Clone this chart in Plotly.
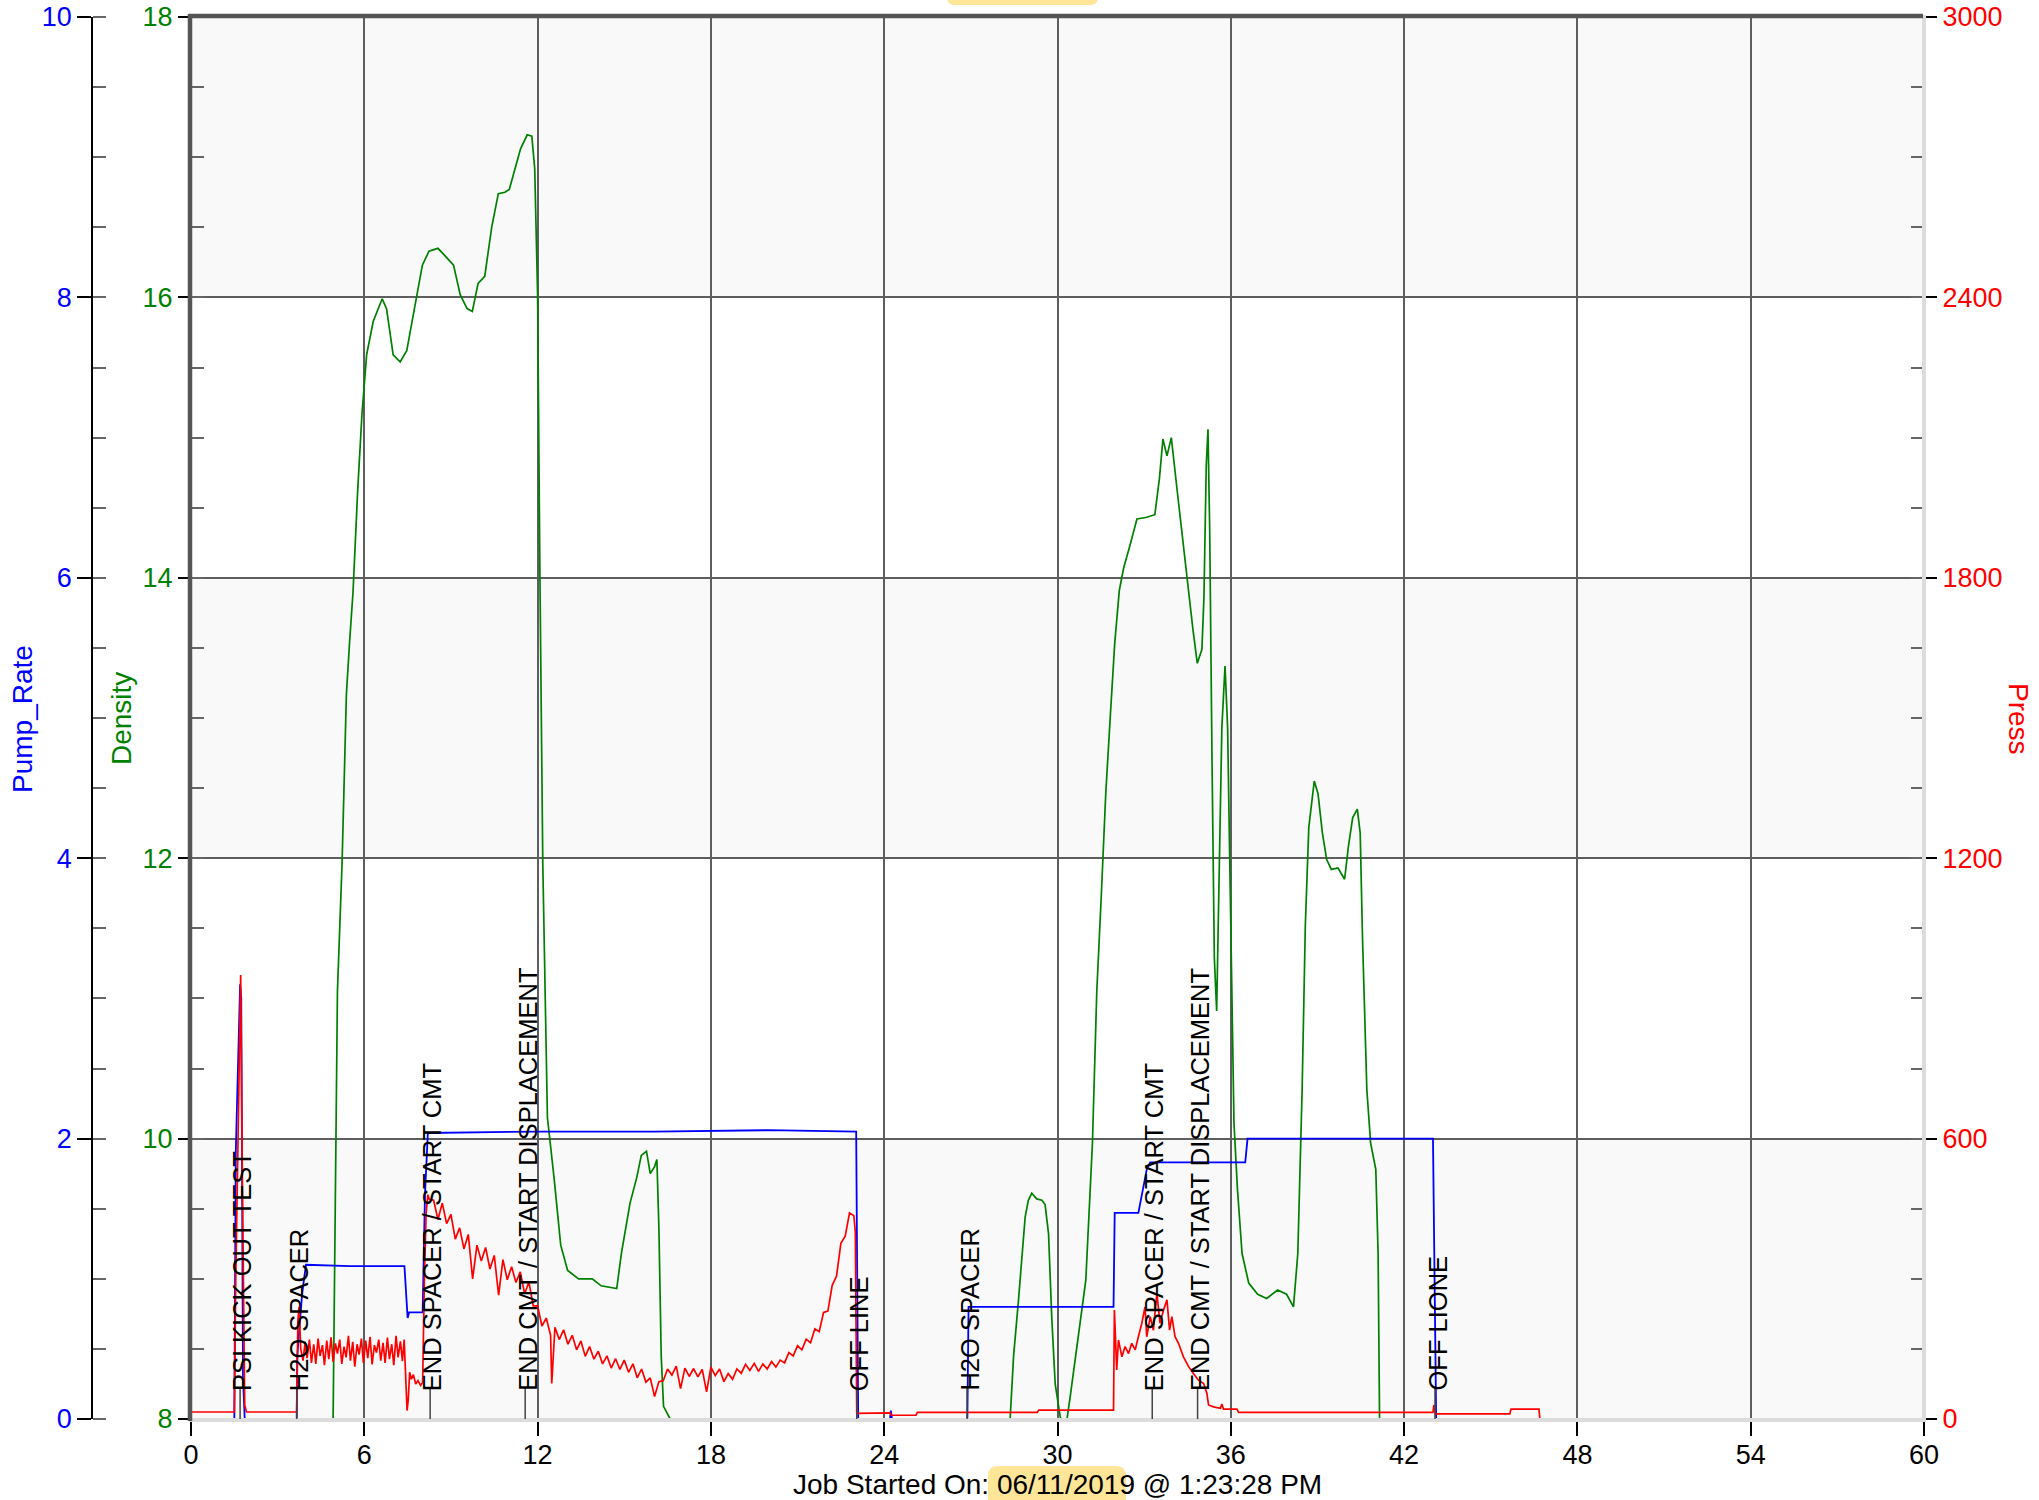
import plotly.graph_objects as go

# ---------------- data ----------------
press_x = [0, 1.50, 1.55, 1.65, 1.72, 1.78, 1.86, 1.92, 3.66, 3.70, 3.74,
           3.80, 3.88, 3.95, 4.02, 4.10, 4.17, 4.25, 4.32, 4.40, 4.47,
           4.55, 4.62, 4.70, 4.77, 4.85, 4.92, 5.00, 5.07, 5.15, 5.22,
           5.30, 5.37, 5.45, 5.52, 5.60, 5.67, 5.75, 5.82, 5.90, 5.97,
           6.05, 6.12, 6.20, 6.27, 6.35, 6.42, 6.50, 6.57, 6.65, 6.72,
           6.80, 6.87, 6.95, 7.02, 7.10, 7.17, 7.25, 7.32, 7.38,
           7.42, 7.48, 7.52, 7.57, 7.63, 7.70, 7.78, 7.86, 7.95, 8.02, 8.08, 8.14, 8.20,
           8.25, 8.40, 8.55, 8.70, 8.85, 9.00, 9.15, 9.30, 9.45, 9.60,
           9.75, 9.90, 10.05, 10.20, 10.35, 10.50, 10.65, 10.80, 10.95, 11.10,
           11.25, 11.40, 11.55, 11.70, 11.85, 12.00, 12.15, 12.30, 12.45, 12.49,
           12.60, 12.75, 12.90, 13.05, 13.20, 13.35, 13.50, 13.65, 13.80, 13.95,
           14.10, 14.25, 14.40, 14.55, 14.70, 14.85, 15.00, 15.15, 15.30, 15.45,
           15.60, 15.75, 15.90, 16.05, 16.20, 16.35, 16.50, 16.65, 16.80, 16.95,
           17.10, 17.25, 17.40, 17.55, 17.70, 17.85, 18.00, 18.15, 18.30, 18.45,
           18.60, 18.75, 18.90, 19.05, 19.20, 19.35, 19.50, 19.65, 19.80, 19.95,
           20.10, 20.25, 20.40, 20.55, 20.70, 20.85, 21.00, 21.15, 21.30, 21.45,
           21.60, 21.75, 21.90, 22.05, 22.20, 22.35, 22.50, 22.65, 22.80, 22.95,
           23.00, 23.05,
           24.20, 24.25, 25.10, 25.15, 29.30, 29.35, 31.94, 31.97, 32.05, 32.11,
           32.23, 32.34, 32.46, 32.57, 32.69, 32.80, 32.92, 33.03, 33.09, 33.21,
           33.32, 33.44, 33.55, 33.67, 33.79, 33.88, 33.96, 34.07, 34.19, 34.36,
           34.54, 34.71, 34.88, 35.06, 35.17, 35.23, 35.40, 35.64, 35.69, 35.75,
           36.21, 36.27, 43.00, 43.03, 43.08, 45.66, 45.70, 46.67, 46.70]
press_y = [15, 15, 300, 700, 950, 500, 30, 15, 15, 210, 240,
           150, 125, 165, 130, 170, 120, 160, 118, 172, 135,
           158, 115, 168, 128, 175, 122, 162, 140, 170, 118,
           155, 132, 178, 125, 165, 112, 160, 138, 172, 120,
           168, 130, 176, 117, 158, 142, 170, 125, 163, 120,
           174, 128, 160, 115, 178, 132, 166, 124, 170,
           120, 18, 40, 100, 85, 95, 75, 82, 72, 78, 300, 440, 480,
           470, 468, 427, 462, 418, 438, 385, 409, 364, 395,
           300, 372, 338, 367, 321, 350, 265, 341, 298, 326,
           292, 315, 268, 293, 242, 242, 199, 216, 179, 76,
           196, 170, 191, 160, 179, 148, 167, 134, 155, 128,
           145, 118, 135, 109, 129, 106, 126, 100, 118, 88,
           107, 79, 88, 48, 80, 82, 107, 94, 113, 65,
           109, 91, 108, 90, 106, 58, 111, 93, 107, 80,
           97, 85, 107, 98, 117, 104, 119, 102, 118, 107,
           123, 111, 126, 120, 142, 135, 157, 148, 171, 163,
           193, 187, 228, 231, 286, 306, 376, 391, 441, 435,
           400, 12,
           13, 8, 8, 14, 14, 19, 19, 233, 105, 169,
           133, 155, 140, 162, 148, 176, 205, 240, 176, 219,
           190, 269, 205, 233, 255, 190, 219, 176, 162, 133,
           112, 97, 83, 76, 55, 30, 26, 23, 32, 21,
           21, 14, 14, 30, 11, 11, 21, 21, 0]

pump_x = [0, 1.50, 1.55, 1.62, 1.70, 1.74, 1.80, 1.86,
          3.66, 3.68, 3.85, 3.98, 5.50, 7.39,
          7.45, 7.50, 7.55, 8.02, 8.10, 8.20,
          12.00, 16.00, 20.00, 23.03, 23.10,
          24.20, 24.23, 24.27, 26.88, 26.92, 31.94, 31.98,
          32.80, 32.95, 33.09, 33.21, 36.50, 36.58, 43.00, 43.11, 46.70]
pump_y = [0, 0, 1.9, 2.4, 3.1, 3.0, 0.3, 0,
          0, 0.45, 0.9, 1.1, 1.09, 1.09,
          0.85, 0.72, 0.76, 0.76, 1.6, 2.04,
          2.05, 2.05, 2.06, 2.05, 0,
          0, 0.06, 0, 0, 0.8, 0.8, 1.47,
          1.47, 1.62, 1.78, 1.83, 1.83, 2.0, 2.0, 0, 0]

dens_x = [0, 4.85, 4.92, 5.07, 5.23, 5.38, 5.49, 5.61, 5.77, 5.92,
          6.08, 6.31, 6.62, 6.77, 7.00, 7.24, 7.47, 7.70, 8.01, 8.24,
          8.55, 8.78, 9.09, 9.32, 9.56, 9.74, 9.94, 10.17, 10.41, 10.64,
          10.87, 11.02, 11.18, 11.41, 11.64, 11.80, 11.90, 12.00, 12.08, 12.18,
          12.34, 12.57, 12.80, 13.04, 13.42, 13.89, 14.20, 14.74, 14.90, 15.20,
          15.43, 15.59, 15.77, 15.90, 16.05, 16.13, 16.20, 16.28, 16.36, 16.59,
          16.70, 28.20, 28.36, 28.48, 28.65, 28.77, 28.88, 28.99, 29.11, 29.28,
          29.46, 29.57, 29.69, 29.80, 29.92, 30.09, 30.26, 30.44, 30.61, 30.80,
          30.98, 31.21, 31.36, 31.52, 31.67, 31.83, 31.98, 32.14, 32.29, 32.52,
          32.75, 33.06, 33.37, 33.53, 33.65, 33.79, 33.94, 34.15, 34.30, 34.45,
          34.69, 34.84, 35.00, 35.07, 35.15, 35.21, 35.27, 35.35, 35.43, 35.51,
          35.58, 35.69, 35.80, 35.89, 36.00, 36.11, 36.23, 36.39, 36.62, 36.93,
          37.24, 37.62, 37.93, 38.17, 38.32, 38.47, 38.58, 38.70, 38.89, 39.02,
          39.17, 39.32, 39.48, 39.71, 39.94, 40.07, 40.22, 40.38, 40.48, 40.56,
          40.71, 40.84, 41.02, 41.10, 41.15, 41.30, 46.70]
dens_y = [7.0, 7.0, 8.0, 11.05, 11.96, 13.17, 13.54, 13.9, 14.62, 15.17,
          15.59, 15.83, 15.99, 15.92, 15.59, 15.54, 15.62, 15.89, 16.23, 16.33,
          16.35, 16.3, 16.23, 16.02, 15.92, 15.9, 16.1, 16.15, 16.5, 16.74,
          16.75, 16.77, 16.89, 17.06, 17.16, 17.15, 16.92, 16.02, 14.02, 11.96,
          10.15, 9.72, 9.24, 9.06, 9.0, 9.0, 8.95, 8.93, 9.18, 9.54,
          9.72, 9.88, 9.91, 9.75, 9.8, 9.85, 9.36, 8.45, 8.09, 8.0,
          7.0, 7.0, 8.0, 8.45, 8.85, 9.13, 9.44, 9.56, 9.61, 9.57,
          9.56, 9.53, 9.32, 8.73, 8.25, 8.02, 7.9, 8.16, 8.42, 8.73,
          8.99, 9.97, 11.05, 11.75, 12.46, 13.02, 13.53, 13.91, 14.07, 14.24,
          14.42, 14.43, 14.45, 14.71, 14.99, 14.87, 15.0, 14.61, 14.33, 14.03,
          13.63, 13.39, 13.49, 13.86, 14.8, 15.06, 14.33, 12.69, 11.29, 10.91,
          11.75, 12.93, 13.37, 12.93, 11.52, 10.11, 9.64, 9.18, 8.97, 8.89,
          8.86, 8.92, 8.89, 8.8, 9.18, 10.35, 11.52, 12.22, 12.55, 12.46,
          12.18, 11.99, 11.92, 11.93, 11.85, 12.08, 12.29, 12.35, 12.18, 11.43,
          10.35, 9.97, 9.78, 9.18, 8.0, 7.0, 7.0]

event_x = [1.70, 3.66, 8.28, 11.57, 23.05, 26.87, 33.28, 34.85, 43.07]
event_labels = ["PSI KICK OUT TEST", "H2O SPACER", "END SPACER / START CMT",
                "END CMT / START DISPLACEMENT", "OFF LINE", "H2O SPACER",
                "END SPACER / START CMT", "END CMT / START DISPLACEMENT", "OFF LIONE"]

x_ticks = [0, 6, 12, 18, 24, 30, 36, 42, 48, 54, 60]
dens_ticks = [8, 10, 12, 14, 16, 18]
pump_ticks = [0, 2, 4, 6, 8, 10]
press_ticks = [0, 600, 1200, 1800, 2400, 3000]
band_ranges = [(8, 10), (12, 14), (16, 18)]

assert len(press_x) == len(press_y)
assert len(pump_x) == len(pump_y)
assert len(dens_x) == len(dens_y)

# ---------------- layout constants ----------------
W, H = 2039, 1500
PL, PR, PT, PB = 191, 1924, 17, 1419          # plot frame in pixels
FONT = "Liberation Sans, Arial, sans-serif"


def fx(p):
    return p / W


def fy(p):
    return 1 - p / H


fig = go.Figure()
fig.add_trace(go.Scatter(x=press_x, y=press_y, yaxis="y3", mode="lines",
                         line=dict(color="#ff0000", width=1.7), hoverinfo="skip"))
fig.add_trace(go.Scatter(x=dens_x, y=dens_y, yaxis="y", mode="lines",
                         line=dict(color="#008000", width=1.7), hoverinfo="skip"))
fig.add_trace(go.Scatter(x=pump_x, y=pump_y, yaxis="y2", mode="lines",
                         line=dict(color="#0000ff", width=1.8), hoverinfo="skip"))

grid = "#5e5e5e"
TF = 27
fig.update_layout(
    width=W, height=H, margin=dict(l=0, r=0, t=0, b=0, autoexpand=False),
    paper_bgcolor="white", plot_bgcolor="white", showlegend=False,
    font=dict(family=FONT, size=TF, color="#000"),
    xaxis=dict(domain=[fx(PL), fx(PR)], range=[0, 60], tickvals=x_ticks,
               ticks="outside", ticklen=16, tickwidth=1.5, tickcolor="#000",
               showgrid=True, gridcolor=grid, gridwidth=1.5, zeroline=False,
               showline=False, ticklabeloverflow="allow", ticklabelstandoff=-4,
               tickfont=dict(color="#000", size=TF)),
    yaxis=dict(domain=[fy(PB), fy(PT)], range=[8, 18], tickvals=dens_ticks,
               ticks="outside", ticklen=12, tickwidth=1.5, tickcolor="#000",
               minor=dict(ticks="inside", dtick=0.5, tick0=8, ticklen=13,
                          tickwidth=1.5, tickcolor="#666", showgrid=False),
               showgrid=True, gridcolor=grid, gridwidth=1.5, zeroline=False,
               showline=False, ticklabeloverflow="allow",
               tickfont=dict(color="#008000", size=TF)),
    yaxis2=dict(overlaying="y", anchor="free", position=fx(92), side="left",
                range=[0, 10], tickvals=pump_ticks, ticks="outside", ticklen=14,
                tickwidth=1.5, tickcolor="#000",
                minor=dict(ticks="inside", dtick=0.5, tick0=0, ticklen=13,
                           tickwidth=1.5, tickcolor="#666", showgrid=False),
                showline=True, linecolor="#000", linewidth=1.5,
                showgrid=False, zeroline=False, ticklabeloverflow="allow",
                tickfont=dict(color="#0000ff", size=TF)),
    yaxis3=dict(overlaying="y", anchor="x", side="right",
                range=[0, 3000], tickvals=press_ticks, ticks="outside", ticklen=12,
                tickwidth=1.5, tickcolor="#000",
                minor=dict(ticks="inside", dtick=150, tick0=0, ticklen=13,
                           tickwidth=1.5, tickcolor="#666", showgrid=False),
                showgrid=False, zeroline=False, ticklabeloverflow="allow",
                tickfont=dict(color="#ff0000", size=TF)),
)

shapes = []
for lo, hi in band_ranges:
    shapes.append(dict(type="rect", xref="x", yref="y", x0=0, x1=60, y0=lo, y1=hi,
                       fillcolor="#f9f9f9", line=dict(width=0), layer="below"))

# plot borders (3D frame look)
shapes += [
    dict(type="line", xref="paper", yref="paper", x0=fx(PL - 2), x1=fx(PR + 2),
         y0=fy(PB + 1), y1=fy(PB + 1), line=dict(color="#dcdcdc", width=4), layer="above"),
    dict(type="line", xref="paper", yref="paper", x0=fx(PR), x1=fx(PR),
         y0=fy(PT - 2), y1=fy(PB + 3), line=dict(color="#dcdcdc", width=4), layer="above"),
    dict(type="line", xref="paper", yref="paper", x0=fx(PL - 2), x1=fx(PR - 1),
         y0=fy(PT - 1), y1=fy(PT - 1), line=dict(color="#555555", width=4.5), layer="above"),
    dict(type="line", xref="paper", yref="paper", x0=fx(PL - 1), x1=fx(PL - 1),
         y0=fy(PT - 3), y1=fy(PB + 2), line=dict(color="#555555", width=4.5), layer="above"),
]

# event marker stubs
for ex in event_x:
    shapes.append(dict(type="line", xref="x", yref="paper", x0=ex, x1=ex,
                       y0=fy(PB), y1=fy(1388), line=dict(color="#444", width=1.5)))


def rounded_rect(x0, y0, x1, y1, r):
    X = fx
    Y = fy
    return (f"M {X(x0 + r)},{Y(y0)} L {X(x1 - r)},{Y(y0)} Q {X(x1)},{Y(y0)} {X(x1)},{Y(y0 + r)} "
            f"L {X(x1)},{Y(y1 - r)} Q {X(x1)},{Y(y1)} {X(x1 - r)},{Y(y1)} "
            f"L {X(x0 + r)},{Y(y1)} Q {X(x0)},{Y(y1)} {X(x0)},{Y(y1 - r)} "
            f"L {X(x0)},{Y(y0 + r)} Q {X(x0)},{Y(y0)} {X(x0 + r)},{Y(y0)} Z")


shapes.append(dict(type="path", xref="paper", yref="paper",
                   path=rounded_rect(988, 1466, 1126, 1520, 10),
                   fillcolor="#ffe598", line=dict(width=0), layer="below"))
shapes.append(dict(type="path", xref="paper", yref="paper",
                   path=rounded_rect(947, -30, 1098, 5, 8),
                   fillcolor="#ffe598", line=dict(width=0), layer="below"))

fig.update_layout(shapes=shapes)

ann = []
for ex, lab in zip(event_x, event_labels):
    ann.append(dict(x=ex, y=fy(1393), xref="x", yref="paper", text=lab,
                    textangle=-90, xanchor="center", yanchor="bottom",
                    showarrow=False, xshift=2,
                    font=dict(family=FONT, size=25.5, color="#000")))

ann += [
    dict(x=fx(22), y=fy(719), xref="paper", yref="paper", text="Pump_Rate",
         textangle=-90, showarrow=False, xanchor="center", yanchor="middle",
         font=dict(family=FONT, size=28, color="#0000ff")),
    dict(x=fx(121), y=fy(719), xref="paper", yref="paper", text="Density",
         textangle=-90, showarrow=False, xanchor="center", yanchor="middle",
         font=dict(family=FONT, size=28, color="#008000")),
    dict(x=fx(2019), y=fy(719), xref="paper", yref="paper", text="Press",
         textangle=90, showarrow=False, xanchor="center", yanchor="middle",
         font=dict(family=FONT, size=28, color="#ff0000")),
    dict(x=fx(1057), y=fy(1484), xref="paper", yref="paper",
         text="Job Started On: 06/11/2019 @ 1:23:28 PM",
         showarrow=False, xanchor="center", yanchor="middle",
         font=dict(family=FONT, size=28, color="#000")),
]
fig.update_layout(annotations=ann)

# remove the page's default body margin so the 2039x1500 figure fills the window exactly
fig.write_html("out.html", config={"displayModeBar": False},
               post_script="document.body.style.margin='0px';document.body.style.overflow='hidden';")
